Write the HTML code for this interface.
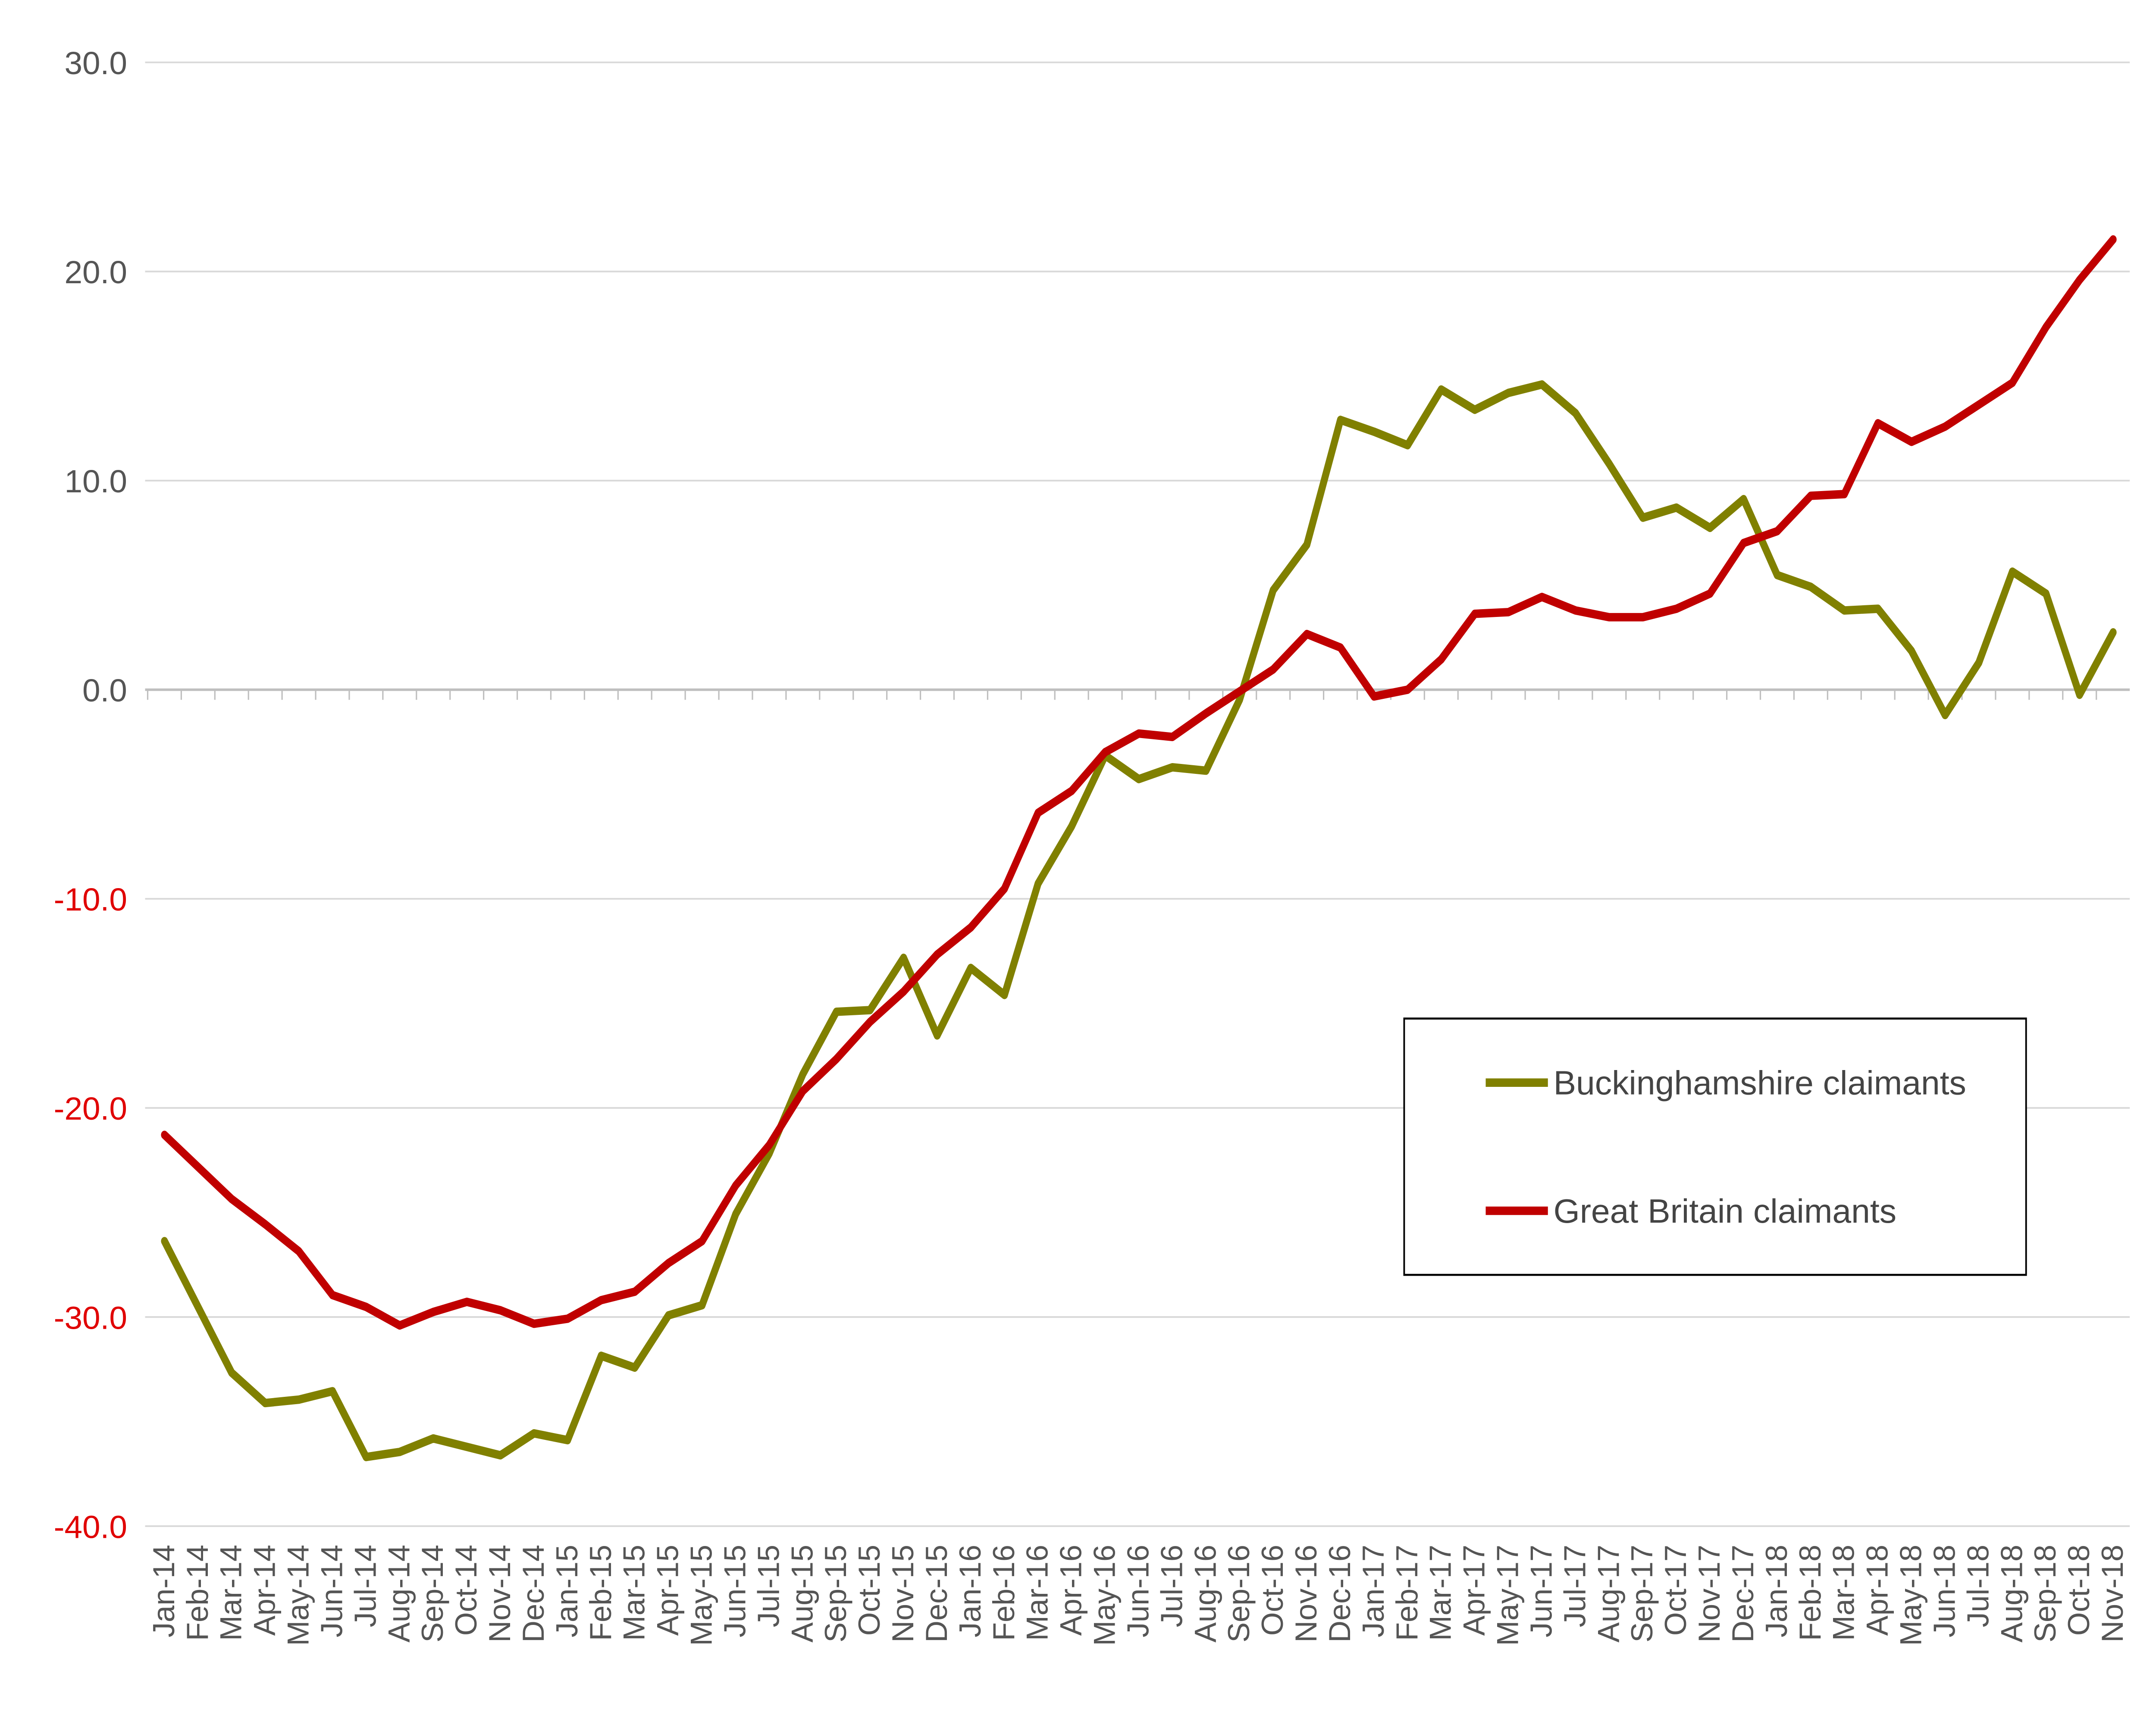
<!DOCTYPE html>
<html><head><meta charset="utf-8"><style>
html,body{margin:0;padding:0;background:#fff;overflow:hidden;width:100vw;height:100vh}
svg{display:block;position:absolute;left:0;top:0;width:100vw;height:100vh}
text{font-family:"Liberation Sans",Arial,sans-serif}
</style></head><body>
<svg viewBox="0 0 1560 1017" preserveAspectRatio="none" xmlns="http://www.w3.org/2000/svg">
<g stroke="#d9d9d9" stroke-width="1">
<line x1="105" y1="37" x2="1541" y2="37"/><line x1="105" y1="161" x2="1541" y2="161"/>
<line x1="105" y1="285" x2="1541" y2="285"/><line x1="105" y1="533" x2="1541" y2="533"/>
<line x1="105" y1="657" x2="1541" y2="657"/><line x1="105" y1="781" x2="1541" y2="781"/>
<line x1="105" y1="905" x2="1541" y2="905"/>
</g>
<line x1="105" y1="409" x2="1541" y2="409" stroke="#bfbfbf" stroke-width="1.5"/>
<g id="ticks" stroke="#bfbfbf" stroke-width="1"></g>
<g font-size="19" text-anchor="end">
<text transform="translate(92,44) scale(1.227,1)" fill="#555">30.0</text>
<text transform="translate(92,168) scale(1.227,1)" fill="#555">20.0</text>
<text transform="translate(92,292) scale(1.227,1)" fill="#555">10.0</text>
<text transform="translate(92,416) scale(1.227,1)" fill="#555">0.0</text>
<text transform="translate(92,540) scale(1.227,1)" fill="#e00000">-10.0</text>
<text transform="translate(92,664) scale(1.227,1)" fill="#e00000">-20.0</text>
<text transform="translate(92,788) scale(1.227,1)" fill="#e00000">-30.0</text>
<text transform="translate(92,912) scale(1.227,1)" fill="#e00000">-40.0</text>
</g>
<g id="xl" font-size="18" fill="#555" text-anchor="end"></g>
<polyline id="b" fill="none" stroke="#808000" stroke-width="5" stroke-linejoin="round" stroke-linecap="round"/>
<polyline id="g" fill="none" stroke="#c00000" stroke-width="5" stroke-linejoin="round" stroke-linecap="round"/>
<rect x="1016" y="604" width="450" height="152" fill="#fff" stroke="#000" stroke-width="1.2"/>
<line x1="1075" y1="642" x2="1120" y2="642" stroke="#808000" stroke-width="5"/>
<line x1="1075" y1="718" x2="1120" y2="718" stroke="#c00000" stroke-width="5"/>
<text transform="translate(1124,649) scale(1.227,1)" font-size="20" fill="#444">Buckinghamshire claimants</text>
<text transform="translate(1124,725) scale(1.227,1)" font-size="20" fill="#444">Great Britain claimants</text>
<script>
var B=[736,775,814,832,830,825,864,861,853,858,863,850,854,804,811,780,774,720,684,637,600,599,568,614,574,590,524,490,448,462,455,457,415,350,323,249,256,264,231,243,233,228,245,275,307,301,313,296,341,348,362,361,386,424,393,339,352,412,375];
var G=[673,692,711,726,742,768,775,786,778,772,777,785,782,771,766,749,736,703,679,647,628,606,588,566,550,527,482,469,446,435,437,423,410,397,376,384,413,409,391,364,363,354,362,366,366,361,352,322,315,294,293,251,262,253,240,227,194,166,142];
var m=["Jan","Feb","Mar","Apr","May","Jun","Jul","Aug","Sep","Oct","Nov","Dec"];
var ns="http://www.w3.org/2000/svg",x0=119,dx=(1529-119)/58;
function p(a){return a.map(function(v,i){return (x0+i*dx).toFixed(1)+","+v}).join(" ")}
document.getElementById("b").setAttribute("points",p(B));
document.getElementById("g").setAttribute("points",p(G));
var xl=document.getElementById("xl"),tk=document.getElementById("ticks");
for(var i=0;i<59;i++){var x=x0+i*dx;
var t=document.createElementNS(ns,"text");t.setAttribute("transform","translate("+(x+7)+",916) scale(1.227,1) rotate(-90)");
t.textContent=m[i%12]+"-"+(14+Math.floor(i/12));xl.appendChild(t);
var l=document.createElementNS(ns,"line");var tx=x-dx/2;l.setAttribute("x1",tx);l.setAttribute("x2",tx);l.setAttribute("y1",409);l.setAttribute("y2",415);tk.appendChild(l);}
</script>
</svg>
</body></html>
